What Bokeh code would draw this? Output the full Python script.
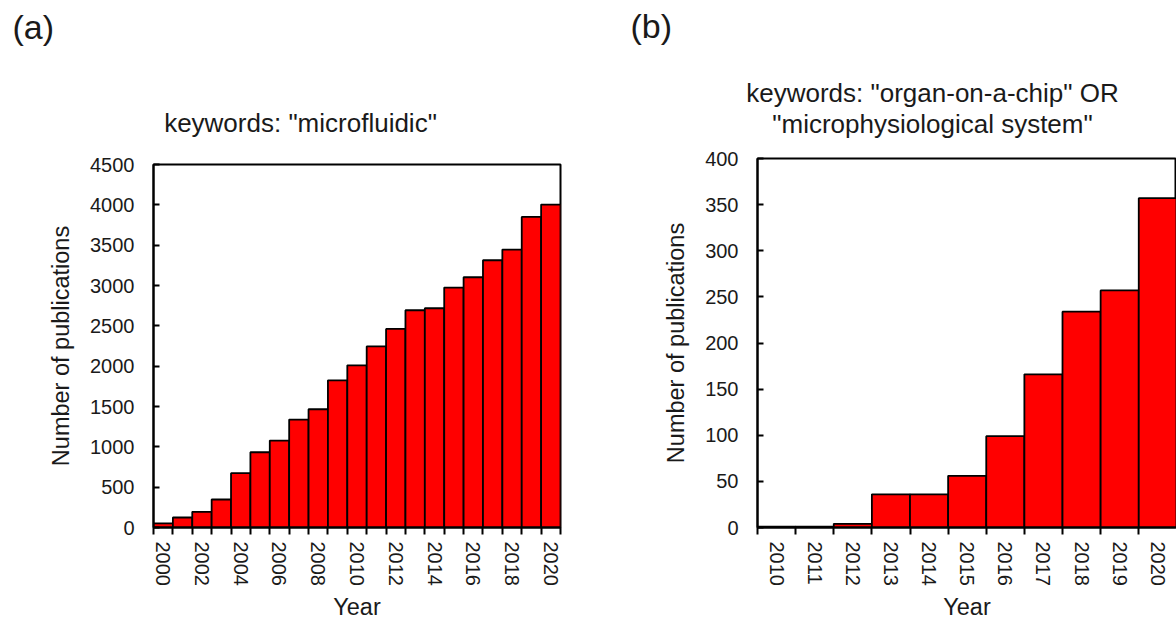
from bokeh.plotting import figure
from bokeh.models import LinearAxis, FixedTicker, Range1d, Label
from bokeh.layouts import row, column
from bokeh.embed import file_html
from bokeh.resources import INLINE

# ---------------- data ----------------
years_a = list(range(2000, 2021))
pubs_a = [50, 124, 194, 347, 673, 933, 1078, 1338, 1466, 1825, 2011,
          2245, 2462, 2693, 2718, 2974, 3102, 3313, 3445, 3850, 4003]
years_b = list(range(2010, 2021))
pubs_b = [1, 1, 4, 36, 36, 56, 99, 166, 234, 257, 357]
yticks_a = list(range(0, 4501, 500))
yticks_b = list(range(0, 401, 50))
xlabels_a = years_a[::2]
xlabels_b = years_b
title_a = ['keywords: "microfluidic"']
title_b = ['keywords: "organ-on-a-chip" OR', '"microphysiological system"']
panel_a = "(a)"
panel_b = "(b)"

FONT = "Liberation Sans"
TXT = "#1a1a1a"
W = 1176
H = 627
HEAD = 145

# ---------------- header (titles and panel tags) ----------------
head = figure(width=W, height=HEAD, x_range=Range1d(0, W), y_range=Range1d(0, HEAD),
              title=None, output_backend="svg", toolbar_location=None,
              x_axis_location=None, y_axis_location=None,
              min_border_left=0, min_border_right=0, min_border_top=0, min_border_bottom=0)
head.grid.visible = False
head.outline_line_color = None
head.background_fill_color = "white"
head.border_fill_color = "white"


def add_text(x, base, text, size, align):
    # base: wanted baseline (px from top); Bokeh's anchor sits ~0.4 em below it
    head.add_layout(Label(x=x, y=HEAD - base + 0.4 * size, text=text, text_font=FONT,
                          text_font_size=f"{size}px", text_align=align,
                          text_baseline="alphabetic", text_color=TXT))


for t, b in zip(title_a, [133]):
    add_text(300, b, t, 26, "center")
for t, b in zip(title_b, [103, 134]):
    add_text(932, b, t, 26, "center")
add_text(12, 40, panel_a, 34, "left")
add_text(630, 39, panel_b, 34, "left")


def make_panel(years, pubs, yticks, xlabels, width, left, right, frame_top, frame_h, x_end):
    x0, x1 = years[0] - 0.5, x_end
    y0, y1 = yticks[0], yticks[-1]
    ph = H - HEAD
    top = frame_top - HEAD
    bottom = ph - top - frame_h
    p = figure(width=width, height=ph, x_range=Range1d(x0, x1), y_range=Range1d(y0, y1),
               title=None, output_backend="svg", toolbar_location=None,
               x_axis_location=None, y_axis_location=None,
               min_border_left=left, min_border_right=right,
               min_border_top=top, min_border_bottom=bottom)
    p.grid.visible = False
    p.outline_line_color = "black"
    p.outline_line_width = 2
    p.outline_line_alpha = 1
    p.background_fill_color = "white"
    p.border_fill_color = "white"

    p.vbar(x=years, top=pubs, width=1.0, bottom=0, fill_color="#ff0000",
           line_color="black", line_width=1.8)

    yax = LinearAxis(ticker=FixedTicker(ticks=yticks), major_tick_in=6, major_tick_out=0,
                     minor_tick_line_color=None, axis_line_width=2, major_tick_line_width=2,
                     major_label_standoff=19, major_label_text_font=FONT,
                     major_label_text_font_size="20px", major_label_text_color=TXT,
                     axis_label="Number of publications", axis_label_text_font=FONT,
                     axis_label_text_font_size="23.5px", axis_label_text_font_style="normal",
                     axis_label_text_color=TXT, axis_label_standoff=13)
    p.add_layout(yax, "left")

    edges = [y - 0.5 for y in years] + [years[-1] + 0.5]
    tick_ax = LinearAxis(ticker=FixedTicker(ticks=edges), major_tick_out=7, major_tick_in=0,
                         minor_tick_line_color=None, axis_line_width=2, major_tick_line_width=2,
                         major_label_text_font_size="0px", major_label_text_color=None,
                         major_label_standoff=0)
    p.add_layout(tick_ax, "below")
    lab_ax = LinearAxis(ticker=FixedTicker(ticks=xlabels), major_tick_out=0, major_tick_in=0,
                        major_tick_line_color=None, minor_tick_line_color=None,
                        axis_line_color=None, major_label_orientation="vertical",
                        major_label_standoff=7, major_label_text_font=FONT,
                        major_label_text_font_size="20px", major_label_text_color=TXT,
                        axis_label="Year", axis_label_text_font=FONT,
                        axis_label_text_font_size="23.5px", axis_label_text_font_style="normal",
                        axis_label_text_color=TXT, axis_label_standoff=5)
    p.add_layout(lab_ax, "below")
    return p


WA = 608
WB = W - WA
pa = make_panel(years_a, pubs_a, yticks_a, xlabels_a, WA, left=153, right=48,
                frame_top=164, frame_h=363, x_end=years_a[-1] + 0.5)
pb = make_panel(years_b, pubs_b, yticks_b, xlabels_b, WB, left=757 - WA, right=0,
                frame_top=158, frame_h=369, x_end=years_b[-1] + 0.49)

layout = column(head, row(column(pa), column(pb)))
open("out.html", "w").write(file_html(layout, INLINE))
